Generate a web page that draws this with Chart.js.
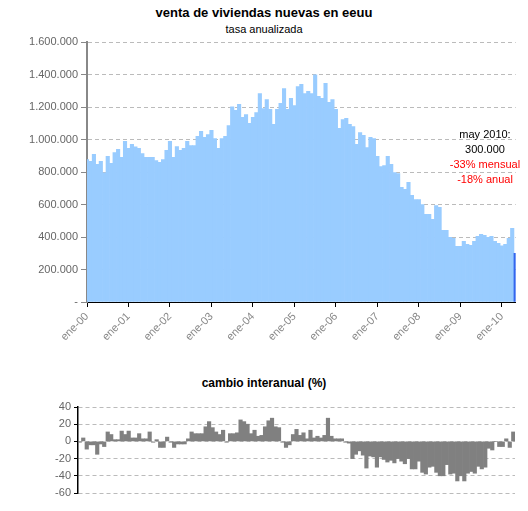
<!DOCTYPE html>
<html><head><meta charset="utf-8">
<script src="https://cdn.jsdelivr.net/npm/chart.js@4"></script>
<style>
body{margin:0;background:#fff;font-family:"Liberation Sans",Arial,sans-serif;}
.t{position:absolute;text-align:center;width:100%;}
#c1{position:absolute;left:0;top:0;}
#c2{position:absolute;left:0;top:395px;}
.a{position:absolute;left:440px;width:90px;text-align:center;font-size:11px;}
</style></head><body>
<div class="t" style="top:5px;font-weight:bold;font-size:13px;">venta de viviendas nuevas en eeuu</div>
<div class="t" style="top:23px;font-size:11px;">tasa anualizada</div>
<div class="t" style="top:376px;font-weight:bold;font-size:12px;">cambio interanual (%)</div>
<canvas id="c1" width="528" height="360"></canvas>
<canvas id="c2" width="528" height="116"></canvas>
<div class="a" style="top:128px;">may 2010:</div>
<div class="a" style="top:143px;">300.000</div>
<div class="a" style="top:158px;color:#f00;">-33% mensual</div>
<div class="a" style="top:173px;color:#f00;">-18% anual</div>
<script>
const years=['00','01','02','03','04','05','06','07','08','09','10'];
const sales=[877,865,908,847,865,795,896,853,920,939,890,988,
945,970,955,945,914,890,890,890,871,859,877,933,
988,890,957,933,945,988,963,963,1019,1050,1013,1031,
1056,1006,945,1006,1019,1086,1201,1179,1216,1136,1154,1099,
1136,1166,1283,1191,1246,1185,1093,1185,1222,1314,1185,1253,
1209,1326,1339,1283,1296,1283,1398,1265,1253,1345,1228,1246,
1185,1068,1123,1130,1093,1080,970,1043,1025,951,1013,1006,
896,834,840,896,847,797,791,705,693,736,656,631,
631,600,539,539,508,594,582,441,441,398,392,342,
342,373,355,349,373,404,416,410,398,404,373,361,
345,355,392,453,300];
const yoy=[-1,4,-9,-4,-4,-15,-3,-6,11,8,2,2,12,8,12,4,4,9,3,3,11,-1,2,-7,-7,5,-1,-7,-3,-3,-3,3,11,9,9,9,17,23,16,11,8,13,-1,9,9,10,25,23,20,9,13,6,7,17,24,27,17,16,-1,-7,-4,8,14,7,10,3,13,4,6,4,7,27,6,3,3,3,-1,-2,-20,-15,-11,-16,-31,-17,-18,-30,-18,-21,-24,-22,-25,-20,-23,-26,-20,-32,-32,-23,-36,-38,-30,-29,-36,-40,-40,-27,-38,-37,-46,-40,-46,-37,-35,-37,-29,-32,-30,-8,-10,0,-6,-6,3,-7,11,31,-18];
const labels=sales.map((v,i)=>'ene-'+years[Math.floor(i/12)]);
const F='"Liberation Sans",Arial,sans-serif';
new Chart(document.getElementById('c1'),{type:'bar',
data:{labels,datasets:[{data:sales.map(v=>v*1000),backgroundColor:sales.map((v,i)=>i==sales.length-1?'#3366ee':'#99ccff'),barPercentage:1,categoryPercentage:1}]},
options:{responsive:false,animation:false,plugins:{legend:{display:false},tooltip:{enabled:false}},
layout:{padding:{top:42,right:9,left:0,bottom:0}},
scales:{
x:{offset:false,afterFit:s=>{s.height=58},border:{color:'#000'},
grid:{drawOnChartArea:false,offset:false,color:c=>c.index%12==0?'#000':'rgba(0,0,0,0)',tickLength:5},
ticks:{autoSkip:false,maxRotation:45,minRotation:45,color:'#888',font:{family:F,size:11},callback:(v,i)=>i%12==0?labels[i]:''}},
y:{min:0,max:1600000,afterFit:s=>{s.width=87},border:{color:'#888',width:2,dash:[4,3]},
grid:{color:c=>c.tick.value==0?'rgba(0,0,0,0)':'#bbb',tickLength:6,tickColor:'#888',tickBorderDash:[]},
ticks:{stepSize:200000,color:'#666',font:{family:F,size:11},callback:v=>v==0?'-':v.toLocaleString('de-DE')}}}}});
new Chart(document.getElementById('c2'),{type:'bar',
data:{labels,datasets:[{data:yoy,backgroundColor:'#808080',barPercentage:1,categoryPercentage:1}]},
options:{responsive:false,animation:false,plugins:{legend:{display:false},tooltip:{enabled:false}},
layout:{padding:{top:12,right:13,left:0,bottom:18}},
scales:{
x:{display:false},
y:{min:-60,max:40,afterFit:s=>{s.width=78},border:{color:'#000',width:1.5,dash:[4,3]},
grid:{color:'#bbb',tickLength:4,tickColor:'#000',tickBorderDash:[]},
ticks:{stepSize:20,color:'#666',font:{family:F,size:11}}}}}});
</script></body></html>
